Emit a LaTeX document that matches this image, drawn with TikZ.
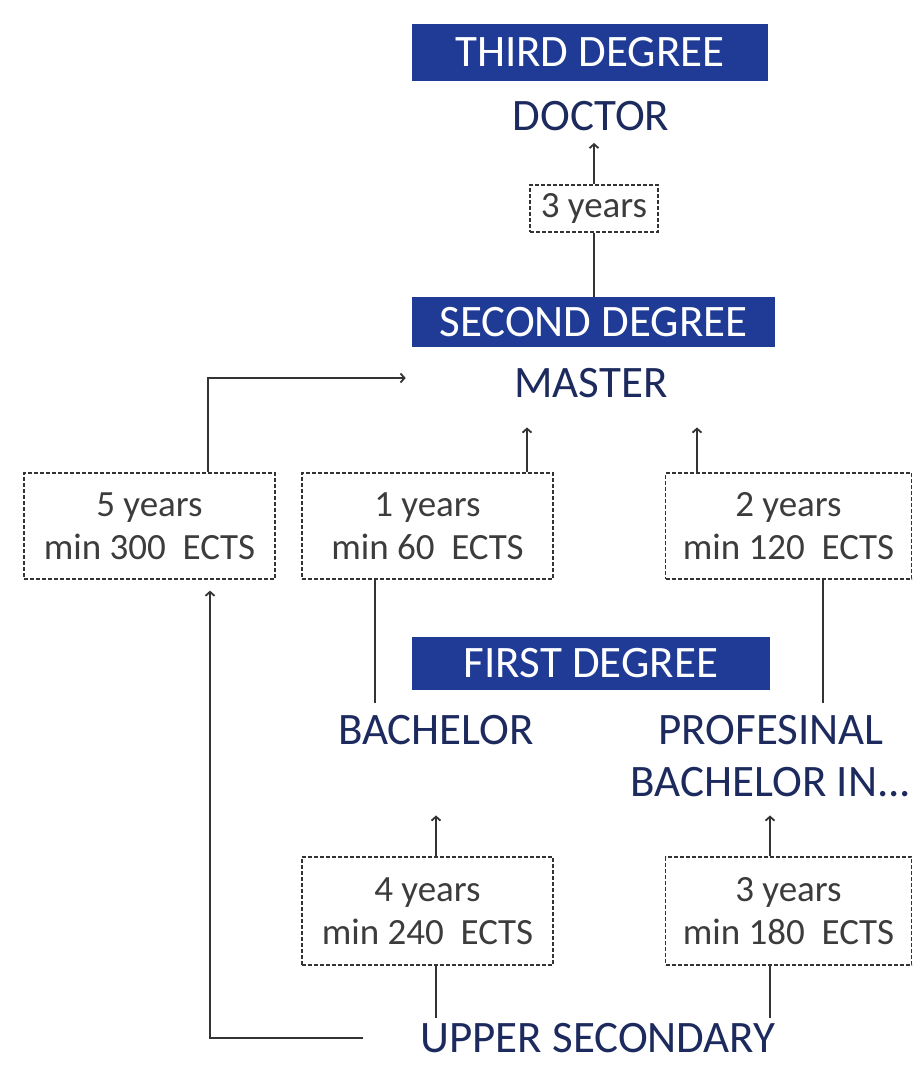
\documentclass[tikz,border=0pt]{standalone}
\usepackage{fontspec}
\setmainfont{Carlito}
\usetikzlibrary{calc,arrows.meta}
\definecolor{bannerblue}{HTML}{1F3B95}
\definecolor{labelblue}{HTML}{1C2A5E}
\definecolor{linegray}{HTML}{333333}
\definecolor{boxtext}{HTML}{3C3C3C}

\begin{document}
\begin{tikzpicture}[x=1pt, y=-1pt,
	banner/.style={rectangle, fill=bannerblue, text=white, font=\fontsize{45}{50}\selectfont, minimum width=#1, minimum height=54, inner sep=0pt},
	degree/.style={text=labelblue, font=\fontsize{45}{52}\selectfont, align=center, inner xsep=4pt, inner ysep=12pt},
	yearbox/.style={rectangle, draw=linegray, line width=1.3pt, dash pattern=on 4pt off 2pt, text=boxtext, font=\fontsize{37}{43}\selectfont, align=center, minimum width=#1, minimum height=106, inner sep=0pt},
	link/.style={draw=linegray, line width=1.8pt},
	arrow/.style={link, -{Straight Barb[length=4pt, width=9pt]}}]
	\useasboundingbox (0,0) rectangle (912,1067);

	\node[banner=356, minimum height=57] (third) at (590,52.5) {THIRD DEGREE};
	\node[degree] (doctor) at (591,116) {DOCTOR};
	\node[yearbox=128, minimum height=47] (y3) at (594,208.5) {3 years};

	\node[banner=363, minimum height=50] (second) at (593.5,322) {SECOND DEGREE};
	\node[degree] (master) at (591,383) {MASTER};
	\node[yearbox=251] (y5) at (149.5,526) {5 years\\min 300\ \ ECTS};
	\node[yearbox=251] (y1) at (427.5,526) {1 years\\min 60\ \ ECTS};
	\node[yearbox=246] (y2) at (788.5,526) {2 years\\min 120\ \ ECTS};

	\node[banner=358, minimum height=53] (first) at (591,663.5) {FIRST DEGREE};
	\node[degree] (bachelor) at (436,730) {BACHELOR};
	\node[degree] (prof) at (771,756) {PROFESINAL\\BACHELOR IN...};
	\node[yearbox=251, minimum height=108] (y4) at (427.5,911) {4 years\\min 240\ \ ECTS};
	\node[yearbox=246, minimum height=108] (y3b) at (788.5,911) {3 years\\min 180\ \ ECTS};

	\node[degree, inner ysep=5pt] (upper) at (598,1038) {UPPER SECONDARY};

	% where the lines leave the boxes
	\coordinate (p5up) at ($(y5.north)+(58.5,0)$);
	\coordinate (p5dn) at ($(y5.south)+(60.5,0)$);
	\coordinate (p1up) at ($(y1.north)+(99.5,0)$);
	\coordinate (p1dn) at ($(y1.south)+(-52.5,0)$);
	\coordinate (p2up) at ($(y2.north)+(-91.5,0)$);
	\coordinate (p2dn) at ($(y2.south)+(34.5,0)$);
	\coordinate (p4up) at ($(y4.north)+(8.5,0)$);
	\coordinate (p4dn) at ($(y4.south)+(8.5,0)$);
	\coordinate (p3up) at ($(y3b.north)+(-18.5,0)$);
	\coordinate (p3dn) at ($(y3b.south)+(-18.5,0)$);
	\coordinate (mIn) at ($(master.west)+(-104.5,-5)$);

	\draw[arrow] (y3.north) -- (y3.north |- doctor.south);
	\draw[link] (y3.south) -- (y3.south |- second.north);

	\draw[arrow] (p5up) |- (mIn);
	\draw[arrow, shorten >=17.5pt] (p1up) -- (p1up |- master.south);
	\draw[arrow, shorten >=17.5pt] (p2up) -- (p2up |- master.south);
	\draw[link] (p1dn) -- (p1dn |- bachelor.north);
	\draw[link] (p2dn) -- (p2dn |- prof.north);

	\draw[arrow, shorten >=58.5pt] (p4up) -- (p4up |- bachelor.south);
	\draw[arrow, shorten >=6.5pt] (p3up) -- (p3up |- prof.south);
	\draw[link] (p4dn) -- (p4dn |- upper.north);
	\draw[link] (p3dn) -- (p3dn |- upper.north);
	\draw[arrow, shorten <=53pt, shorten >=11pt] (upper.west) -| (p5dn);
\end{tikzpicture}
\end{document}
